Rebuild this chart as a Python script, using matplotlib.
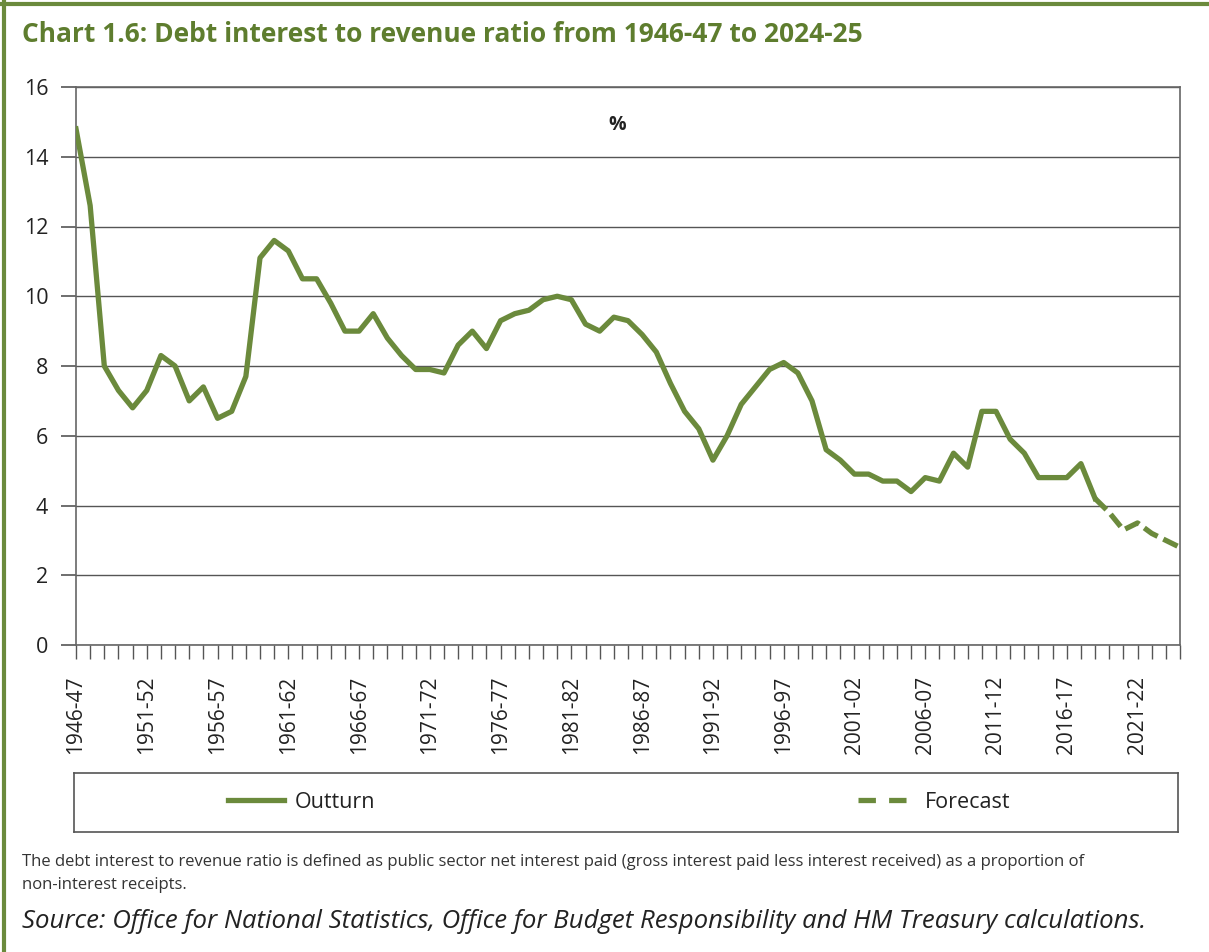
import matplotlib
matplotlib.use("Agg")
import matplotlib.pyplot as plt
from matplotlib.lines import Line2D

plt.rcParams['font.family'] = ['Open Sans', 'DejaVu Sans']

# ---------------- data ----------------
start_years = list(range(1946, 2025))
years = [f"{y}-{str(y + 1)[-2:]}" for y in start_years]

outturn = [14.8, 12.6, 8.0, 7.3, 6.8, 7.3, 8.3, 8.0, 7.0, 7.4,
           6.5, 6.7, 7.7, 11.1, 11.6, 11.3, 10.5, 10.5, 9.8, 9.0,
           9.0, 9.5, 8.8, 8.3, 7.9, 7.9, 7.8, 8.6, 9.0, 8.5,
           9.3, 9.5, 9.6, 9.9, 10.0, 9.9, 9.2, 9.0, 9.4, 9.3,
           8.9, 8.4, 7.5, 6.7, 6.2, 5.3, 6.0, 6.9, 7.4, 7.9,
           8.1, 7.8, 7.0, 5.6, 5.3, 4.9, 4.9, 4.7, 4.7, 4.4,
           4.8, 4.7, 5.5, 5.1, 6.7, 6.7, 5.9, 5.5, 4.8, 4.8,
           4.8, 5.2, 4.2]
forecast = [4.2, 3.8, 3.3, 3.5, 3.2, 3.0, 2.8]

yticks = [0, 2, 4, 6, 8, 10, 12, 14, 16]
label_every = 5

# ---------------- style ----------------
GREEN = '#6b8a3c'
TITLE_GREEN = '#5e7d2e'
GRID = '#555555'
TEXT = '#222222'

W, H = 1209, 952
fig = plt.figure(figsize=(W / 100, H / 100), dpi=100)

# frame lines (top and left)
fig.add_artist(Line2D([0, 1], [1 - 3.5 / H, 1 - 3.5 / H], color=GREEN, lw=3, transform=fig.transFigure))
fig.add_artist(Line2D([3.5 / W, 3.5 / W], [0, 1], color=GREEN, lw=3, transform=fig.transFigure))

fig.text(22 / W, 1 - 34 / H, "Chart 1.6: Debt interest to revenue ratio from 1946-47 to 2024-25",
         color=TITLE_GREEN, fontsize=19, fontweight='bold', va='center', ha='left')

left, right, top, bottom = 76, 1180, 87, 645
ax = fig.add_axes([left / W, 1 - bottom / H, (right - left) / W, (bottom - top) / H])

x_out = list(range(len(outturn)))
x_fc = list(range(len(outturn) - 1, len(outturn) - 1 + len(forecast)))

ax.plot(x_out, outturn, color=GREEN, lw=3.8, solid_joinstyle='round', zorder=3, label='Outturn')
ax.plot(x_fc, forecast, color=GREEN, lw=3.8, dashes=(3, 1.2), zorder=3, label='Forecast')

ax.set_xlim(0, len(years) - 1)
ax.set_ylim(0, 16)
ax.set_yticks(yticks)
ax.set_yticklabels([str(v) for v in yticks])
ax.set_xticks(range(len(years)))
ax.set_xticklabels([lab if i % label_every == 0 else '' for i, lab in enumerate(years)], rotation=90)

ax.grid(axis='y', color=GRID, lw=1.0)
ax.set_axisbelow(True)
for s in ax.spines.values():
    s.set_color('#666666')
    s.set_linewidth(1.2)
ax.tick_params(axis='y', length=11, width=1.2, color='#555555', pad=9, labelsize=15.5, labelcolor=TEXT)
ax.tick_params(axis='x', length=10, width=1.0, color='#555555', pad=12, labelsize=15, labelcolor=TEXT)

ax.text(0.49, 0.932, '%', transform=ax.transAxes, fontsize=14, fontweight='bold',
        ha='center', va='center', color=TEXT)

# legend box
lb_left, lb_right, lb_top, lb_bottom = 74, 1178, 773, 832
lax = fig.add_axes([lb_left / W, 1 - lb_bottom / H, (lb_right - lb_left) / W, (lb_bottom - lb_top) / H])
lax.set_xticks([])
lax.set_yticks([])
for s in lax.spines.values():
    s.set_color('#555555')
    s.set_linewidth(1.2)
lax.patch.set_alpha(0)

h_out = Line2D([], [], color=GREEN, lw=3.8)
h_fc = Line2D([], [], color=GREEN, lw=3.8, dashes=(3.3, 2.5))
span = lb_right - lb_left
leg1 = lax.legend([h_out], ['Outturn'], loc='center left', bbox_to_anchor=((228 - lb_left) / span, 0.5),
                  frameon=False, fontsize=15.5, handlelength=2.6, handletextpad=0.5,
                  borderpad=0, borderaxespad=0, labelcolor=TEXT)
lax.add_artist(leg1)
leg2 = lax.legend([h_fc], ['Forecast'], loc='center left', bbox_to_anchor=((858 - lb_left) / span, 0.5),
                  frameon=False, fontsize=15.5, handlelength=2.3, handletextpad=0.8,
                  borderpad=0, borderaxespad=0, labelcolor=TEXT)

fig.text(22 / W, 1 - 862 / H,
         "The debt interest to revenue ratio is defined as public sector net interest paid (gross interest paid less interest received) as a proportion of",
         fontsize=12, color='#333333', va='center', ha='left')
fig.text(22 / W, 1 - 885 / H, "non-interest receipts.", fontsize=12, color='#333333', va='center', ha='left')
fig.text(22 / W, 1 - 922 / H,
         "Source: Office for National Statistics, Office for Budget Responsibility and HM Treasury calculations.",
         fontsize=18.5, style='italic', color='#222222', va='center', ha='left')

fig.savefig('out.png', dpi=100)
